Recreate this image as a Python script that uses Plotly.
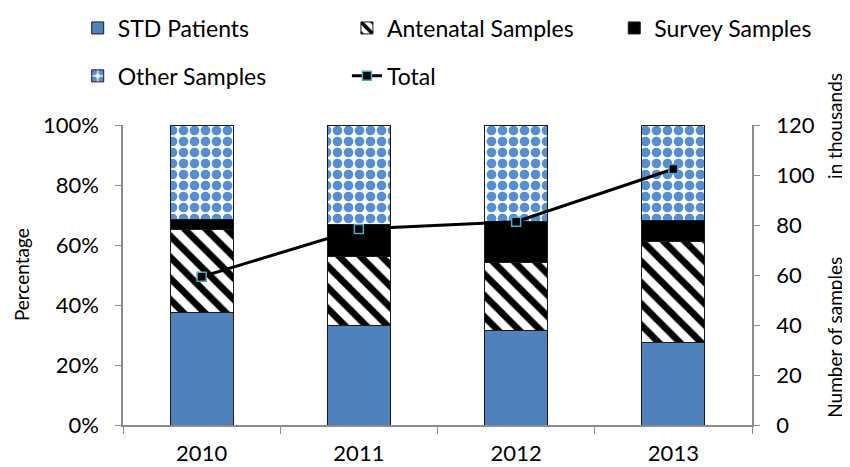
import plotly.graph_objects as go

years = ["2010", "2011", "2012", "2013"]
std_patients = [37.6, 33.3, 31.4, 27.6]
antenatal = [27.7, 22.8, 22.7, 33.5]
survey = [3.3, 10.9, 13.9, 7.2]
other = [31.4, 33.0, 32.0, 31.7]
total_thousands = [59.3, 78.4, 81.3, 102.4]
pct_ticks = [0, 20, 40, 60, 80, 100]
pct_labels = ["0%", "20%", "40%", "60%", "80%", "100%"]
num_ticks = [0, 20, 40, 60, 80, 100, 120]

FONT = "Lato"
AXIS_GRAY = "#8C8C8C"

fig = go.Figure()

fig.add_trace(go.Bar(
    x=years, y=std_patients, name="STD Patients", legend="legend", legendgroup="a",
    marker=dict(color="#4F81BD", line=dict(color="#1a1a1a", width=1)),
))
fig.add_trace(go.Bar(
    x=years, y=antenatal, name="Antenatal Samples", legend="legend2", legendgroup="b",
    marker=dict(color="white", line=dict(color="#1a1a1a", width=1),
                pattern=dict(shape="\\", fgcolor="black", bgcolor="white",
                             size=15, solidity=0.45, fillmode="replace")),
))
fig.add_trace(go.Bar(
    x=years, y=survey, name="Survey Samples", legend="legend3", legendgroup="c",
    marker=dict(color="black", line=dict(color="#1a1a1a", width=1)),
))
fig.add_trace(go.Bar(
    x=years, y=other, name="Other Samples", legend="legend", legendgroup="d",
    marker=dict(color="white", line=dict(color="#1a1a1a", width=1),
                pattern=dict(shape=".", fgcolor="#558ED5", bgcolor="white",
                             size=11, solidity=0.6, fillmode="replace")),
))
fig.add_trace(go.Scatter(
    x=years, y=total_thousands, name="Total", yaxis="y2", legend="legend2", legendgroup="e",
    mode="lines+markers",
    line=dict(color="black", width=3),
    marker=dict(symbol="square", size=9, color="black", line=dict(color="#4BACC6", width=1.5)),
))

legend_common = dict(
    orientation="v", yanchor="top", xanchor="left", y=1.395,
    font=dict(family=FONT, size=23, color="black"),
    tracegroupgap=15, bgcolor="rgba(0,0,0,0)", traceorder="grouped",
    itemwidth=30,
)

fig.update_layout(
    width=850, height=467,
    margin=dict(l=115, r=106, t=117, b=50, autoexpand=False),
    paper_bgcolor="white", plot_bgcolor="white",
    barmode="stack", bargap=0.6,
    font=dict(family=FONT, size=22, color="black"),
    showlegend=True,
    legend=dict(x=-0.072, **legend_common),
    legend2=dict(x=0.356, **legend_common),
    legend3=dict(x=0.781, **legend_common),
    xaxis=dict(
        type="category", showline=True, linecolor=AXIS_GRAY, linewidth=1.5,
        ticks="outside", tickson="boundaries", ticklen=7, tickcolor=AXIS_GRAY,
        tickfont=dict(family=FONT, size=22), showgrid=False, ticklabelstandoff=8,
    ),
    yaxis=dict(
        range=[0, 100], tickmode="array", tickvals=pct_ticks, ticktext=pct_labels,
        showline=True, linecolor=AXIS_GRAY, linewidth=1.5,
        ticks="outside", ticklen=6, tickcolor=AXIS_GRAY,
        tickfont=dict(family=FONT, size=22), showgrid=False, zeroline=False,
        ticklabelstandoff=12,
    ),
    yaxis2=dict(
        overlaying="y", side="right", range=[0, 120], tickmode="array", tickvals=num_ticks,
        showline=True, linecolor=AXIS_GRAY, linewidth=1.5,
        ticks="outside", ticklen=6, tickcolor=AXIS_GRAY,
        tickfont=dict(family=FONT, size=22), showgrid=False, zeroline=False,
        ticklabelstandoff=12,
    ),
    annotations=[
        dict(text="Percentage", xref="paper", yref="paper", x=-0.162, y=0.5,
             textangle=-90, showarrow=False, xanchor="center", yanchor="middle",
             font=dict(family=FONT, size=19, color="black")),
        dict(text="Number of samples" + "\u00a0" * 16 + "in thousands", xref="paper", yref="paper",
             x=1.13, y=0.6, textangle=-90, showarrow=False, xanchor="center", yanchor="middle",
             font=dict(family=FONT, size=19, color="black")),
    ],
)

fig.write_html("out.html")
